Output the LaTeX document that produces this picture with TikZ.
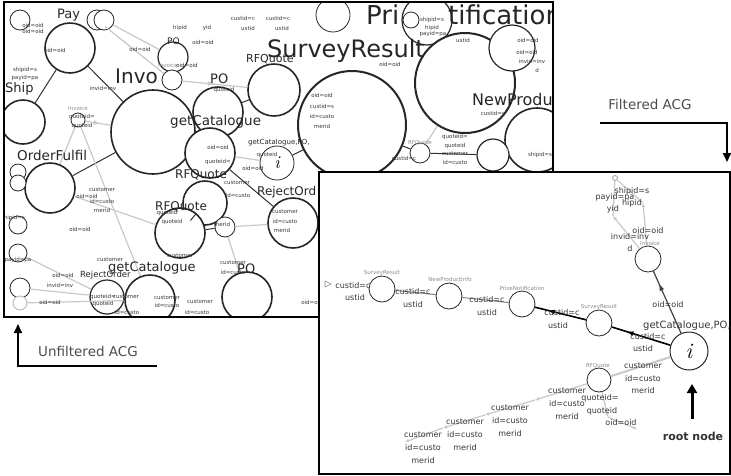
\documentclass[tikz,border=0pt]{standalone}
\usepackage{fontspec}
\setmainfont{DejaVu Sans}
\newfontfamily\lmfont{Latin Modern Roman}
\usetikzlibrary{arrows.meta, decorations.markings}
\newcommand{\fsz}[1]{\fontsize{#1}{#1}\selectfont}
\definecolor{edgegray}{RGB}{200,200,200}
\definecolor{textgray}{RGB}{55,55,55}

\begin{document}
\begin{tikzpicture}[x=1pt, y=-1pt,
  bub/.style={circle, draw=black!85, fill=white, inner sep=0pt, minimum size=#1pt, line width=0.8pt},
  fat bub/.style={bub=#1, line width=1.6pt},
  big/.style={font=\fsz{#1}, inner sep=0pt, anchor=base west, text=black!85},
  sm/.style={font=\fsz{5.5}, inner sep=0pt, text=textgray},
  el/.style={font=\fsz{8}, inner sep=0pt, text=textgray},
  nm/.style={font=\fsz{5.5}, inner sep=0pt, text=black!45},
  caption/.style={font=\fsz{13.5}, inner sep=0pt, text=black!70},
  dark/.style={draw=black!80, line width=1pt},
  light/.style={draw=edgegray, line width=1.2pt},
  midarrow/.style={postaction={decorate}, decoration={markings,
    mark=at position #1 with {\arrow{Latex[length=7pt,width=5pt]}}}},
  tipgray/.style={draw=edgegray, line width=1.2pt, -{Latex[open,length=4pt,width=4pt]}},
  pointer/.style={line width=2pt, -{Triangle[length=9pt,width=8pt]}}
]
\useasboundingbox (0,0) rectangle (731,475);

\begin{scope}
  \clip (4,2) rectangle (553,317);
  \node[bub=20] (a1) at (20,20) {};
  \node[fat bub=50] (a2) at (70,48) {};
  \node[bub=20] (a3) at (97,20) {};
  \node[bub=20] (a4) at (104,20) {};
  \node[bub=30, line width=1.2pt] (a5) at (173,57) {};
  \node[bub=20] (a6) at (172,80) {};
  \node[fat bub=84] (gc) at (153,132) {};
  \node[fat bub=50] (a7) at (218,112) {};
  \node[fat bub=50] (a8) at (210,153) {};
  \node[fat bub=52] (a9) at (274,90) {};
  \node[bub=108, line width=2pt] (sr) at (352,125) {};
  \node[bub=34] (a10) at (333,15) {};
  \node[bub=50, line width=1.2pt] (a12) at (427,20) {};
  \node[bub=16] (a11) at (411,20) {};
  \node[bub=100, line width=2pt] (np) at (465,83) {};
  \node[bub=46, line width=1.2pt] (a13) at (512,48) {};
  \node[fat bub=64] (a14) at (537,140) {};
  \node[bub=20] (a15) at (420,153) {};
  \node[bub=32, line width=1.2pt] (a16) at (493,155) {};
  \node[bub=34] (iL) at (277,163) {\fsz{18}\lmfont\itshape i};
  \node[fat bub=50] (a17) at (293,223) {};
  \node[fat bub=44] (a18) at (205,203) {};
  \node[fat bub=50] (a19) at (180,233) {};
  \node[bub=20] (a20) at (225,227) {};
  \node[fat bub=50] (a21) at (247,297) {};
  \node[fat bub=50] (a22) at (150,300) {};
  \node[bub=34, line width=1.2pt] (a23) at (107,297) {};
  \node[fat bub=50] (of) at (50,188) {};
  \node[fat bub=44] (a24) at (23,122) {};
  \node[bub=14] (a25) at (78,120) {};
  \node[bub=16] (l1) at (18,172) {};
  \node[bub=16] (l2) at (18,183) {};
  \node[bub=18] (l3) at (18,225) {};
  \node[bub=18] (l4) at (18,253) {};
  \node[bub=20] (l5) at (20,288) {};
  \node[bub=14, draw=black!30] (l6) at (20,303) {};

  \draw[dark] (a2) -- (gc);
  \draw[dark] (a2) -- (a24);
  \draw[dark] (of) -- (gc);
  \draw[dark] (iL) -- (sr);
  \draw[dark] (a8) -- (a17);
  \draw[dark] (a19) -- (a20);
  \draw[dark] (a9) -- (a7);
  \draw[dark] (a15) -- (a16);
  \draw[dark] (sr) -- (a15);
  \draw[dark] (a18) -- (a19);
  \draw[light] (a3) -- (a6);
  \draw[light] (a4) -- (a5);
  \draw[light, midarrow=.6] (a25) -- (gc);
  \draw[light, midarrow=.5] (a6) -- (a9);
  \draw[light] (a20) -- (a17);
  \draw[light] (a20) -- (a21);
  \draw[light] (a8) -- (iL);
  \draw[light] (a23) -- (l5);
  \draw[light] (of) -- (a25);
  \draw[light] (of) -- (a19);
  \draw[light] (l4) -- (a23);
  \draw[light] (a25) -- (a22);
  \draw[light] (np) -- (a15);
  \draw[light] (a14) -- (a16);
  \draw[light] (l6) -- (a22);

  \node[big=13] (tPay) at (57,18) {Pay};
  \node[big=20] (tInvo) at (115,83) {Invo};
  \node[big=24] (tSR) at (267,57) {SurveyResult};
  \node[big=26] (tPri) at (366,24) {Pri};
  \node[big=26] (tTif) at (448,24) {tification};
  \node[big=16] (tNP) at (472,105) {NewProdu};
  \node[big=13.5] (tGC1) at (170,125) {getCatalogue};
  \node[big=9] (tPO1) at (167,44) {PO};
  \node[big=13] (tPO2) at (210,83) {PO};
  \node[big=11] (tRFQ1) at (246,62) {RFQuote};
  \node[big=13] (tShip) at (5,92) {Ship};
  \node[big=13.5] (tOF) at (17,160) {OrderFulfil};
  \node[big=12] (tRFQ2) at (175,178) {RFQuote};
  \node[big=12] (tRFQ3) at (155,210) {RFQuote};
  \node[big=12] (tRO) at (257,195) {RejectOrd};
  \node[big=8.5] (tRO2) at (80,277) {RejectOrder};
  \node[big=13] (tGC2) at (108,271) {getCatalogue};
  \node[big=13] (tPO3) at (237,273) {PO};
  \node[big=7] (tGC3) at (248,144) {getCatalogue,PO,};

  \node[nm] at (168,65) {Invoice};
  \node[nm] at (78,108) {Invoice};
  \node[nm] at (420,143) {RFQuote};
  \node[sm] at (33,25) {oid=oid};
  \node[sm] at (33,31) {oid=oid};
  \node[sm] at (55,50) {oid=oid};
  \node[sm] at (140,49) {oid=oid};
  \node[sm] at (25,70) {shipid=s};
  \node[sm] at (25,78) {payid=pa};
  \node[sm] at (180,28) {hipid};
  \node[sm] at (207,28) {yid};
  \node[sm] at (243,18) {custid=c};
  \node[sm] at (278,18) {custid=c};
  \node[sm] at (248,28) {ustid};
  \node[sm] at (282,28) {ustid};
  \node[sm] at (203,42) {oid=oid};
  \node[sm] at (187,65) {oid=oid};
  \node[sm] at (224,90) {quoteid};
  \node[sm] at (103,88) {invid=inv};
  \node[sm] at (322,95) {oid=oid};
  \node[sm] at (322,106) {custid=s};
  \node[sm] at (322,116) {id=custo};
  \node[sm] at (322,126) {merid};
  \node[sm] at (390,64) {oid=oid};
  \node[sm] at (432,20) {shipid=s};
  \node[sm] at (432,28) {hipid};
  \node[sm] at (433,34) {payid=pa};
  \node[sm] at (463,40) {ustid};
  \node[sm] at (528,40) {oid=oid};
  \node[sm] at (527,52) {oid=oid};
  \node[sm] at (532,61) {invid=inv};
  \node[sm] at (537,70) {d};
  \node[sm] at (493,113) {custid=c};
  \node[sm] at (455,137) {quoteid=};
  \node[sm] at (455,146) {quoteid};
  \node[sm] at (455,154) {customer};
  \node[sm] at (455,162) {id=custo};
  \node[sm] at (404,158) {custid=c};
  \node[sm] at (540,155) {shipid=s};
  \node[sm] at (82,117) {quoteid=};
  \node[sm] at (82,126) {quoteid};
  \node[sm] at (218,147) {oid=oid};
  \node[sm] at (218,162) {quoteid=};
  \node[sm] at (267,155) {quoteid};
  \node[sm] at (253,168) {oid=oid};
  \node[sm] at (237,183) {customer};
  \node[sm] at (238,195) {id=custo};
  \node[sm] at (285,212) {customer};
  \node[sm] at (285,221) {id=custo};
  \node[sm] at (282,230) {merid};
  \node[sm] at (102,190) {customer};
  \node[sm] at (87,196) {oid=oid};
  \node[sm] at (102,201) {id=custo};
  \node[sm] at (102,210) {merid};
  \node[sm] at (80,229) {oid=oid};
  \node[sm] at (167,213) {quoteid};
  \node[sm] at (172,222) {quoteid};
  \node[sm] at (222,224) {merid};
  \node[sm] at (13,218) {shipid=s};
  \node[sm] at (18,260) {payid=pa};
  \node[sm] at (110,260) {customer};
  \node[sm] at (180,256) {customer};
  \node[sm] at (233,263) {customer};
  \node[sm] at (233,272) {id=custo};
  \node[sm] at (63,275) {oid=oid};
  \node[sm] at (60,285) {invid=inv};
  \node[sm] at (103,297) {quoteid=};
  \node[sm] at (103,304) {quoteid};
  \node[sm] at (126,297) {customer};
  \node[sm] at (127,312) {id=custo};
  \node[sm] at (50,302) {oid=oid};
  \node[sm] at (167,298) {customer};
  \node[sm] at (167,305) {id=custo};
  \node[sm] at (200,302) {customer};
  \node[sm] at (197,312) {id=custo};
  \node[sm] at (312,302) {oid=oid};
\end{scope}
\draw[line width=2pt] (4,2) rectangle (553,317);

\draw[line width=2pt, fill=white] (319,172) rectangle (730,474);
\node[bub=26] (sr1) at (382,289) {};
\node[bub=26] (np2) at (449,296) {};
\node[bub=26] (pn) at (522,304) {};
\node[bub=26] (sr2) at (599,323) {};
\node[bub=38, line width=1pt] (root) at (689,351) {\fsz{22}\lmfont\itshape i};
\node[bub=26] (inv) at (648,259) {};
\node[bub=24] (rfq) at (599,380) {};
\node[bub=5, draw=black!40] (t1) at (615,178) {};
\coordinate (u1) at (613,216);
\coordinate (u2) at (643,203);
\coordinate (c1) at (535,400);
\coordinate (c2) at (485,415);
\coordinate (c3) at (443,428);
\coordinate (c4) at (405,442);
\coordinate (q1) at (608,417);
\coordinate (q2) at (637,429);

\draw[black!55, line width=0.9pt] (np2) -- (sr1);
\draw[black!55, line width=0.9pt] (pn) -- (np2);
\draw[black, line width=1.6pt, midarrow=.75] (sr2) -- (pn);
\draw[black, line width=1.6pt, midarrow=.75] (root) -- (sr2);
\draw[black!75, line width=1.2pt, midarrow=.8] (root) -- (inv);
\draw[edgegray, line width=2pt] (root) -- (rfq);
\draw[tipgray] (rfq) -- (c1);
\draw[tipgray] (c1) -- (c2);
\draw[tipgray] (c2) -- (c3);
\draw[tipgray] (c3) -- (c4);
\draw[tipgray] (rfq) -- (q1);
\draw[tipgray] (q1) -- (q2);
\draw[tipgray] (inv) -- (u1);
\draw[tipgray] (inv) -- (u2);
\draw[light] (u1) -- (t1);
\draw[light] (u2) -- (t1);
\draw[black!45, line width=0.6pt] (325,281) -- (331,284) -- (325,287) -- cycle;

\node[nm] at (382,273) {SurveyResult};
\node[nm] at (450,279) {NewProductInfo};
\node[nm] at (522,288) {PrizeNotification};
\node[nm] at (599,307) {SurveyResult};
\node[nm] at (650,243) {Invoice};
\node[nm] at (598,366) {RFQuote};
\node[el] at (353,286) {custid=c};
\node[el] at (355,298) {ustid};
\node[el] at (413,292) {custid=c};
\node[el] at (413,305) {ustid};
\node[el] at (487,300) {custid=c};
\node[el] at (487,313) {ustid};
\node[el] at (562,313) {custid=c};
\node[el] at (558,326) {ustid};
\node[el] at (648,337) {custid=c};
\node[el] at (643,349) {ustid};
\node[big=10, text=textgray] (gcpo) at (643,328) {getCatalogue,PO,};
\node[el] at (668,305) {oid=oid};
\node[el] at (643,366) {customer};
\node[el] at (643,379) {id=custo};
\node[el] at (643,391) {merid};
\node[el] at (600,398) {quoteid=};
\node[el] at (602,411) {quoteid};
\node[el] at (621,423) {oid=oid};
\node[el] at (567,391) {customer};
\node[el] at (567,404) {id=custo};
\node[el] at (567,417) {merid};
\node[el] at (510,408) {customer};
\node[el] at (510,421) {id=custo};
\node[el] at (510,434) {merid};
\node[el] at (465,422) {customer};
\node[el] at (465,435) {id=custo};
\node[el] at (465,448) {merid};
\node[el] at (423,435) {customer};
\node[el] at (423,448) {id=custo};
\node[el] at (423,461) {merid};
\node[el] at (632,191) {shipid=s};
\node[el] at (615,197) {payid=pa};
\node[el] at (632,203) {hipid};
\node[el] at (613,209) {yid};
\node[el] at (648,231) {oid=oid};
\node[el] at (630,237) {invid=inv};
\node[el] at (630,249) {d};

\node[caption] (filt) at (650,104) {Filtered ACG};
\coordinate (fa) at (600,123);
\coordinate (fb) at (727,162);
\draw[pointer] (fa) -| (fb);
\node[caption] (unfilt) at (88,351) {Unfiltered ACG};
\coordinate (ua) at (157,366);
\coordinate (ub) at (18,324);
\draw[pointer] (ua) -| (ub);
\node[font=\fsz{11}\bfseries, text=black!80, inner sep=0pt] (rootlbl) at (693,436) {root node};
\coordinate (ra) at (692,419);
\coordinate (rb) at (692,384);
\draw[line width=3pt, -{Triangle[length=9pt,width=10pt]}] (ra) -- (rb);
\end{tikzpicture}
\end{document}
